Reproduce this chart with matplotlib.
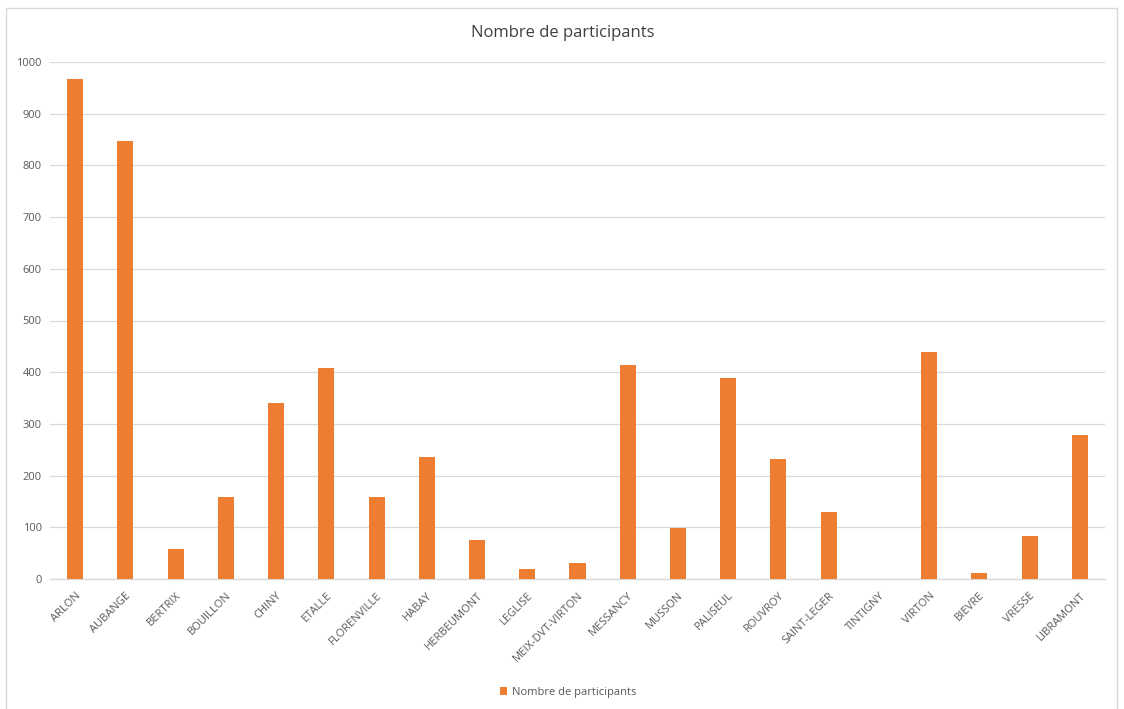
import matplotlib.pyplot as plt
from matplotlib.patches import Rectangle

communes = ['ARLON', 'AUBANGE', 'BERTRIX', 'BOUILLON', 'CHINY', 'ETALLE', 'FLORENVILLE',
            'HABAY', 'HERBEUMONT', 'LEGLISE', 'MEIX-DVT-VIRTON', 'MESSANCY', 'MUSSON',
            'PALISEUL', 'ROUVROY', 'SAINT-LEGER', 'TINTIGNY', 'VIRTON', 'BIEVRE', 'VRESSE',
            'LIBRAMONT']
participants = [967, 847, 58, 158, 340, 408, 158, 236, 75, 20, 31, 414, 99, 389, 232, 130,
                0, 439, 12, 83, 279]
yticks = [0, 100, 200, 300, 400, 500, 600, 700, 800, 900, 1000]

plt.rcParams['font.family'] = ['Open Sans', 'DejaVu Sans']
orange = '#ED7D31'
grey_txt = '#595959'

fig = plt.figure(figsize=(11.24, 7.09), dpi=100)
ax = fig.add_axes([50 / 1124, 1 - 579 / 709, 1055 / 1124, 517 / 709])

x = range(len(communes))
bars = ax.bar(x, participants, width=0.32, color=orange, label='Nombre de participants', zorder=3)

ax.set_xlim(-0.5, len(communes) - 0.5)
ax.set_ylim(0, 1000)
ax.set_yticks(yticks)
ax.set_yticklabels([str(v) for v in yticks], fontsize=8, color=grey_txt)
ax.set_xticks(list(x))
ax.set_xticklabels(communes, rotation=45, ha='right', rotation_mode='anchor',
                   fontsize=8, color=grey_txt)
ax.tick_params(axis='both', length=0, pad=6)
ax.tick_params(axis='x', pad=8)
ax.grid(True, axis='y', color='#D9D9D9', linewidth=0.9, zorder=0)
for s in ['top', 'right', 'left']:
    ax.spines[s].set_visible(False)
ax.spines['bottom'].set_color('#D9D9D9')
ax.spines['bottom'].set_linewidth(1.0)

fig.text(563 / 1124, 1 - 33 / 709, 'Nombre de participants', ha='center', va='center',
         fontsize=12, color='#404040')

leg = fig.legend(handles=[bars], loc='center', bbox_to_anchor=(568 / 1124, 1 - 692 / 709),
                 frameon=False, fontsize=8, handlelength=0.7, handleheight=0.7,
                 handletextpad=0.4)
for t in leg.get_texts():
    t.set_color(grey_txt)

# light frame around the chart
fig.patches.append(Rectangle((6 / 1124, -0.02), 1111 / 1124, 1 - 8 / 709 + 0.02,
                             transform=fig.transFigure, fill=False,
                             edgecolor='#D9D9D9', linewidth=1.0))

fig.savefig('out.png', dpi=100)
